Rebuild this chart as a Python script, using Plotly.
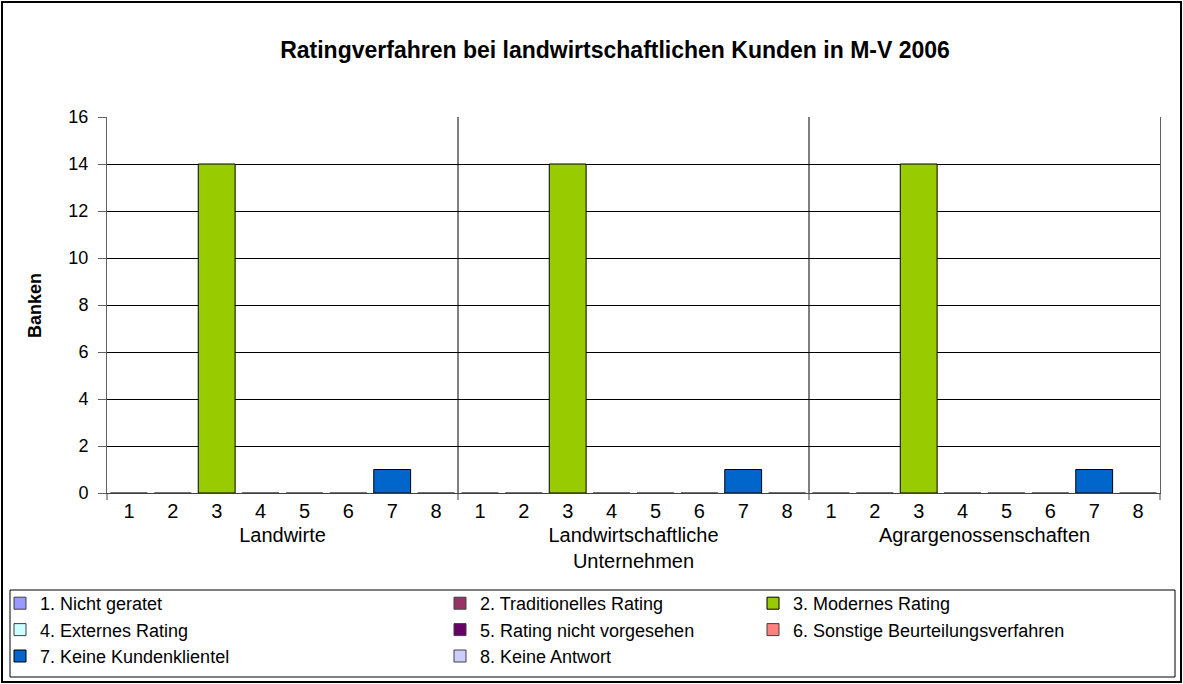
import plotly.graph_objects as go

# Kategorien und Antworten
gruppen = ["Landwirte", "Landwirtschaftliche<br>Unternehmen", "Agrargenossenschaften"]
codes = ["1", "2", "3", "4", "5", "6", "7", "8"]
serien = [
    "1. Nicht geratet",
    "2. Traditionelles Rating",
    "3. Modernes Rating",
    "4. Externes Rating",
    "5. Rating nicht vorgesehen",
    "6. Sonstige Beurteilungsverfahren",
    "7. Keine Kundenklientel",
    "8. Keine Antwort",
]

## Anzahl Banken je Gruppe
nicht_geratet = [0, 0, 0]
traditionell = [0, 0, 0]
modern = [14, 14, 14]
extern = [0, 0, 0]
nicht_vorgesehen = [0, 0, 0]
sonstige = [0, 0, 0]
keine_kundenklientel = [1, 1, 1]
keine_antwort = [0, 0, 0]

werte = [nicht_geratet, traditionell, modern, extern,
         nicht_vorgesehen, sonstige, keine_kundenklientel, keine_antwort]
farben = ["#9999FF", "#993366", "#99CC00", "#CCFFFF",
          "#660066", "#FF8080", "#0066CC", "#CCCCFF"]

FONT = "Liberation Sans, Arial, sans-serif"
ACHSE = "#404040"

# Plotbereich in Pixeln
W, H = 1183, 684
L, R, T, B = 107, 23, 117, 191
pw, ph = W - L - R, H - T - B


def px(x):
    return (x - L) / pw


def py(y):
    return (H - B - y) / ph


fig = go.Figure()

# Spalten der Legende: 1/4/7, 2/5/8, 3/6
legend_col = ["legend", "legend2", "legend3"]

for i, name in enumerate(serien):
    fig.add_trace(go.Bar(
        x=[gruppen, [codes[i]] * len(gruppen)],
        y=werte[i],
        name=name,
        # Nullbalken bekommen die Achsenfarbe, damit sie nicht auffallen
        marker=dict(color=farben[i],
                    line=dict(color=["#000000" if v else ACHSE for v in werte[i]],
                              width=1)),
        legend=legend_col[i % 3],
        legendgroup=name,
        hoverinfo="y+name",
    ))

fig.update_layout(
    width=W, height=H,
    margin=dict(l=L, r=R, t=T, b=B, autoexpand=False),
    paper_bgcolor="white",
    plot_bgcolor="white",
    barmode="overlay",
    bargap=0.16,
    font=dict(family=FONT, color="#000000"),
    title=dict(
        text="<b>Ratingverfahren bei landwirtschaftlichen Kunden in M-V 2006</b>",
        font=dict(size=23, family=FONT),
        xref="container", yref="container",
        x=615 / W, y=1 - 50 / H, xanchor="center", yanchor="middle",
    ),
    xaxis=dict(
        type="multicategory",
        showdividers=False,
        showgrid=False,
        showline=True, linecolor=ACHSE, linewidth=1,
        ticks="",
        tickfont=dict(size=20),
        tickangle=0,
    ),
    yaxis=dict(
        range=[0, 16], dtick=2,
        showgrid=True, gridcolor="#000000", gridwidth=1,
        zeroline=False,
        showline=True, linecolor="#606060", linewidth=1, mirror=True,
        ticks="outside", ticklen=8, tickcolor="#606060",
        tickfont=dict(size=18),
        ticklabelstandoff=6,
    ),
    showlegend=True,
)

# Achsentitel
fig.add_annotation(text="<b>Banken</b>", xref="paper", yref="paper",
                   x=px(35), y=0.5, xanchor="center", yanchor="middle",
                   textangle=-90, showarrow=False,
                   font=dict(size=18, family=FONT))

legend_style = dict(
    orientation="v",
    xref="container", yref="container",
    yanchor="top", xanchor="left",
    y=1 - 585 / H,
    bgcolor="rgba(0,0,0,0)",
    font=dict(size=18, family=FONT),
    tracegroupgap=0,
    itemwidth=30,
)
fig.update_layout(
    legend=dict(legend_style, x=0),
    legend2=dict(legend_style, x=440 / W),
    legend3=dict(legend_style, x=753 / W),
)

# Trennlinien zwischen den Gruppen, mit kurzen Strichen unter der Achse
n = len(gruppen)
for k in range(n + 1):
    if 0 < k < n:
        fig.add_shape(type="line", xref="x domain", yref="y domain",
                      x0=k / n, x1=k / n, y0=0, y1=1,
                      line=dict(color="#000000", width=1))
    fig.add_shape(type="line", xref="x domain", yref="y domain",
                  ysizemode="pixel", yanchor=0,
                  x0=k / n, x1=k / n, y0=-7, y1=0,
                  line=dict(color=ACHSE, width=1))

# Rahmen der Legende und des Diagramms
fig.add_shape(type="rect", xref="paper", yref="paper",
              x0=px(10), x1=px(1175), y0=py(677), y1=py(590),
              line=dict(color="#000000", width=1), layer="below")
fig.add_shape(type="rect", xref="paper", yref="paper",
              x0=px(2), x1=px(1181), y0=py(682), y1=py(2),
              line=dict(color="#000000", width=2), layer="below")

fig.write_html("out.html", config={"displayModeBar": False},
               post_script="document.body.style.margin='0px';")
